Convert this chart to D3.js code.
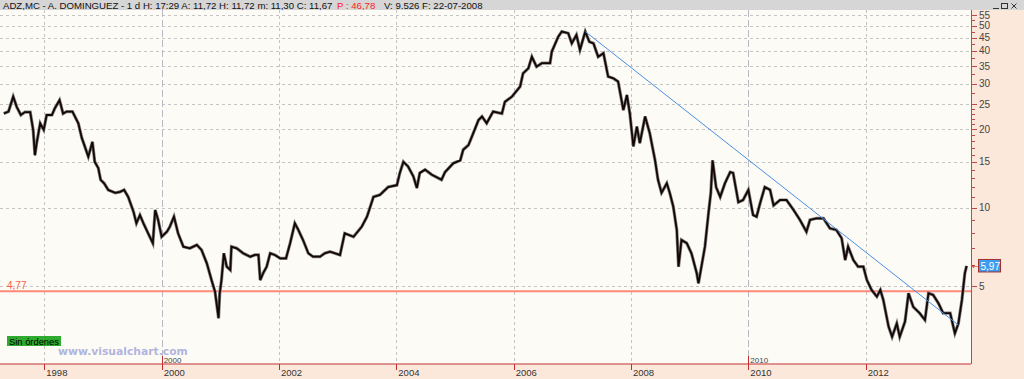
<!DOCTYPE html>
<html><head><meta charset="utf-8">
<script src="https://cdn.jsdelivr.net/npm/d3@7"></script>
<style>body{margin:0;background:#fff}svg{display:block}</style>
</head><body>
<svg id="c" width="1024" height="379"></svg>
<script>
// ---- data ----
const years = [1997.31,1997.39,1997.47,1997.53,1997.60,1997.67,1997.76,1997.81,1997.84,1997.87,1997.93,1997.99,
1998.04,1998.13,1998.18,1998.26,1998.32,1998.38,1998.48,1998.58,1998.64,1998.69,1998.75,1998.82,1998.86,1998.92,1998.96,
1999.02,1999.09,1999.21,1999.29,1999.36,1999.43,1999.52,1999.57,1999.63,1999.69,1999.77,1999.85,1999.89,1999.94,
2000.00,2000.09,2000.14,2000.21,2000.28,2000.37,2000.48,2000.60,2000.68,2000.77,2000.85,2000.91,2000.97,2000.99,
2001.02,2001.06,2001.11,2001.17,2001.19,2001.28,2001.39,2001.51,2001.59,2001.65,2001.68,2001.73,2001.79,2001.85,2001.93,
2002.02,2002.12,2002.19,2002.27,2002.33,2002.41,2002.50,2002.58,2002.70,2002.78,2002.87,
2003.04,2003.12,2003.27,2003.41,2003.50,2003.61,2003.72,2003.86,
2004.01,2004.06,2004.12,2004.20,2004.29,2004.35,2004.40,2004.49,2004.60,2004.77,2004.83,2004.97,
2005.09,2005.14,2005.23,2005.31,2005.40,2005.46,2005.54,2005.65,2005.80,2005.85,2005.97,
2006.11,2006.16,2006.25,2006.31,2006.39,2006.48,2006.62,2006.65,2006.76,2006.82,2006.93,2006.99,
2007.07,2007.13,2007.22,2007.29,2007.36,2007.44,2007.53,2007.61,2007.70,2007.78,2007.87,2007.93,2007.98,
2008.04,2008.10,2008.15,2008.24,2008.32,2008.41,2008.46,2008.52,2008.61,2008.66,2008.72,2008.78,2008.81,2008.86,2008.95,
2009.03,2009.12,2009.15,2009.21,2009.26,2009.32,2009.36,2009.39,2009.45,2009.52,2009.60,2009.69,2009.74,2009.83,2009.91,
2010.00,2010.08,2010.14,2010.20,2010.28,2010.37,2010.43,2010.54,2010.65,2010.77,2010.88,2010.99,
2011.05,2011.16,2011.28,2011.39,2011.50,2011.59,2011.65,2011.70,2011.79,2011.87,2011.96,
2012.02,2012.10,2012.19,2012.25,2012.30,2012.39,2012.45,2012.53,2012.58,2012.67,2012.73,2012.81,2012.92,
2013.01,2013.07,2013.15,2013.24,2013.32,2013.44,2013.52,2013.58,2013.64,2013.69,2013.72];
const closes = [23.0,23.4,26.7,24.4,22.7,23.3,23.3,19.9,15.9,17.7,21.1,19.9,
22.7,22.7,24.1,25.9,23.0,23.4,23.4,21.1,18.5,17.2,15.7,17.9,15.0,14.2,12.8,
12.4,11.7,11.4,11.5,11.7,11.0,9.65,8.71,9.37,8.71,7.97,7.30,9.80,8.97,
7.73,8.08,8.45,9.23,7.97,7.08,6.98,7.19,6.88,6.11,5.27,4.75,3.76,4.69,
5.27,6.68,5.93,5.76,7.08,6.98,6.68,6.48,6.58,6.58,5.27,5.60,5.93,6.68,6.58,
6.39,6.39,7.30,8.71,8.21,7.51,6.68,6.48,6.48,6.68,6.77,
6.58,7.97,7.73,8.45,9.23,11.0,11.2,12.0,
12.2,13.6,15.0,14.4,13.2,11.9,13.6,14.0,13.4,12.8,13.7,14.8,
15.2,16.7,17.4,19.3,21.7,22.4,21.1,23.4,23.0,25.5,26.7,
29.2,32.8,34.3,38.0,34.8,35.9,35.9,39.8,45.4,47.5,46.8,42.8,
46.1,40.4,47.5,43.4,42.8,38.0,39.2,31.9,31.4,30.5,23.7,27.1,23.0,
17.2,20.5,17.7,22.4,19.3,15.2,12.8,11.4,12.4,11.4,10.1,8.21,5.93,7.51,7.30,
6.68,5.60,5.12,6.11,7.08,9.51,11.4,15.2,12.0,11.0,12.4,13.7,13.6,10.5,10.7,
11.7,9.37,9.23,10.4,12.0,11.7,10.2,10.7,10.7,9.80,8.97,8.08,
8.97,9.10,9.10,8.33,8.21,7.63,6.29,7.08,6.29,5.93,5.93,
5.27,4.83,4.55,4.83,4.42,3.49,3.19,3.59,3.19,3.65,4.69,4.16,3.93,
3.70,4.69,4.62,4.29,3.93,3.93,3.29,3.59,4.42,5.60,5.97];
const trendYears = [2007.22, 2013.58];
const trendValues = [47.5, 3.54];
const supportLevel = 4.77;
const lastPrice = 5.97;
const yearTicks = [1998,2000,2002,2004,2006,2008,2010,2012];
const decadeYears = [2000,2010];
const priceTicks = [5,10,15,20,25,30,35,40,45,50,55];
const minorTicks = [6,7,8,9,11,12,13,14,16,17,18,19,21,22,23,24,27.5,32.5,37.5,42.5,47.5,52.5];
const headerParts = ["ADZ,MC - A. DOMINGUEZ -  1 d H: 17:29 A: 11,72 H: 11,72 m: 11,30 C: 11,67", "P : 46,78", "V: 9.526 F: 22-07-2008"];

// ---- layout ----
const W = 1024, H = 379, plotTop = 10, plotRight = 971, plotBottom = 364;
const svg = d3.select("#c");
const x = d3.scaleLinear().domain([1998, 2012]).range([44.3, 865.7]);
const y = d3.scaleLog().domain([5, 55]).range([286, 15]);
const fmt = v => d3.format(".2f")(v).replace(".", ",");

// backgrounds
svg.append("rect").attr("width", W).attr("height", H).attr("fill", "#fce8da");
svg.append("rect").attr("x", 0).attr("y", 0).attr("width", W).attr("height", plotTop).attr("fill", "#d6d6d6");
svg.append("rect").attr("x", 0).attr("y", plotTop).attr("width", plotRight).attr("height", plotBottom - plotTop).attr("fill", "#fdfbf5");

svg.append("defs").append("clipPath").attr("id", "plot")
  .append("rect").attr("x", 0).attr("y", plotTop).attr("width", plotRight).attr("height", plotBottom - plotTop);

const g = svg.append("g").attr("clip-path", "url(#plot)");

// grid
g.selectAll(".hg").data(priceTicks).join("line")
  .attr("x1", 0).attr("x2", plotRight).attr("y1", d => Math.round(y(d)) + 0.5).attr("y2", d => Math.round(y(d)) + 0.5)
  .attr("stroke", "#c4c4c4").attr("stroke-dasharray", "3,3");
g.selectAll(".vg").data(yearTicks).join("line")
  .attr("x1", d => Math.round(x(d)) + 0.5).attr("x2", d => Math.round(x(d)) + 0.5).attr("y1", plotTop).attr("y2", plotBottom)
  .attr("stroke", d => decadeYears.includes(d) ? "#b8b8c4" : "#c4c4c4")
  .attr("stroke-dasharray", d => decadeYears.includes(d) ? "7,3" : "3,3");

// support level
g.append("line").attr("x1", 0).attr("x2", plotRight).attr("y1", y(supportLevel)).attr("y2", y(supportLevel))
  .attr("stroke", "#ff8a78").attr("stroke-width", 2);
svg.append("text").attr("x", 7).attr("y", y(supportLevel) - 2.5).text(fmt(supportLevel))
  .attr("font-family", "Liberation Sans, Arial, sans-serif").attr("font-size", 10).attr("fill", "#ff5a40");

// price line
const pts = years.map((d, i) => [d, closes[i]]);
const line = d3.line().x(d => x(d[0])).y(d => y(d[1]));
g.append("path").attr("d", line(pts)).attr("fill", "none").attr("stroke", "#808080").attr("stroke-width", 3.2).attr("stroke-linejoin", "miter");
g.append("path").attr("d", line(pts)).attr("fill", "none").attr("stroke", "#140606").attr("stroke-width", 1.8).attr("stroke-linejoin", "miter");

// trend line
g.append("line").attr("x1", x(trendYears[0])).attr("y1", y(trendValues[0]))
  .attr("x2", x(trendYears[1])).attr("y2", y(trendValues[1]))
  .attr("stroke", "#4a8fe0").attr("stroke-width", 1);

// right axis
const ax = svg.append("g");
ax.append("line").attr("x1", plotRight + 0.5).attr("x2", plotRight + 0.5).attr("y1", plotTop).attr("y2", plotBottom).attr("stroke", "#c04848");
ax.selectAll(".mt").data(minorTicks).join("line")
  .attr("x1", plotRight).attr("x2", plotRight + 4).attr("y1", d => Math.round(y(d)) + 0.5).attr("y2", d => Math.round(y(d)) + 0.5)
  .attr("stroke", "#c04848");
ax.selectAll(".Mt").data(priceTicks).join("line")
  .attr("x1", plotRight).attr("x2", plotRight + 6).attr("y1", d => Math.round(y(d)) + 0.5).attr("y2", d => Math.round(y(d)) + 0.5)
  .attr("stroke", "#c04848");
ax.selectAll(".tl").data(priceTicks).join("text")
  .attr("x", plotRight + 8).attr("y", d => y(d) + 3.5).text(d => d)
  .attr("font-family", "Liberation Sans, Arial, sans-serif").attr("font-size", 10).attr("fill", "#444");

// last price marker
const ly = y(lastPrice);
svg.append("text").attr("x", plotRight + 1).attr("y", ly + 3).text("←")
  .attr("font-family", "DejaVu Sans, sans-serif").attr("font-size", 8).attr("fill", "#d03030");
svg.append("rect").attr("x", 978.5).attr("y", ly - 6.5).attr("width", 22).attr("height", 12.5)
  .attr("fill", "#3d9bf0").attr("stroke", "#a03030");
svg.append("text").attr("x", 980.5).attr("y", ly + 3.8).text(fmt(lastPrice))
  .attr("font-family", "Liberation Sans, Arial, sans-serif").attr("font-size", 10).attr("fill", "#fff");

// bottom axis
const bx = svg.append("g");
bx.append("line").attr("x1", 0).attr("x2", plotRight).attr("y1", plotBottom).attr("y2", plotBottom).attr("stroke", "#d47070").attr("stroke-width", 1.5);
bx.selectAll(".bt").data(yearTicks).join("line")
  .attr("x1", d => Math.round(x(d)) + 0.5).attr("x2", d => Math.round(x(d)) + 0.5)
  .attr("y1", d => decadeYears.includes(d) ? plotBottom - 8 : plotBottom).attr("y2", plotBottom + 6)
  .attr("stroke", "#c03030");
bx.selectAll(".bl").data(yearTicks).join("text")
  .attr("x", d => x(d) + 2).attr("y", plotBottom + 11.5).text(d => d)
  .attr("font-family", "Liberation Sans, Arial, sans-serif").attr("font-size", 9.5).attr("fill", "#333");
bx.selectAll(".dl").data(decadeYears).join("text")
  .attr("x", d => x(d) + 2).attr("y", plotBottom - 1.5).text(d => d)
  .attr("font-family", "Liberation Sans, Arial, sans-serif").attr("font-size", 8).attr("fill", "#444");

// Sin órdenes
svg.append("rect").attr("x", 7).attr("y", 336).attr("width", 54).attr("height", 10).attr("fill", "#2eaa2e");
const so = svg.append("text").attr("x", 9).attr("y", 344.5).text("Sin órdenes")
  .attr("font-family", "Liberation Sans, Arial, sans-serif").attr("font-size", 9).attr("fill", "#000");
so.attr("font-size", 9 * 50 / so.node().getComputedTextLength());

// watermark
const wm = svg.append("text").attr("x", 58).attr("y", 354.5).text("www.visualchart.com")
  .attr("font-family", "DejaVu Sans, Verdana, sans-serif").attr("font-weight", "bold").attr("font-size", 11)
  .attr("fill", "#a7abdb").attr("fill-opacity", 0.9);
wm.attr("font-size", 11 * 130 / wm.node().getComputedTextLength());

// header: one font size fitted to the first segment; segments placed as in the reference
const hx = [3, 337, 384];
const first = svg.append("text").attr("x", hx[0]).attr("y", 8.5).text(headerParts[0])
  .attr("font-family", "Liberation Sans, Arial, sans-serif").attr("font-size", 9).attr("fill", "#111");
const hs = Math.min(10, 9 * 330 / first.node().getComputedTextLength());
first.attr("font-size", hs);
headerParts.slice(1).forEach((t, i) => {
  svg.append("text").attr("x", hx[i + 1]).attr("y", 8.5).text(t)
    .attr("font-family", "Liberation Sans, Arial, sans-serif").attr("font-size", hs)
    .attr("fill", i === 0 ? "#ff2020" : "#111");
});
// window buttons
const wb = svg.append("g").attr("stroke", "#333").attr("fill", "none");
wb.append("line").attr("x1", 993).attr("x2", 999).attr("y1", 8.5).attr("y2", 8.5);
wb.append("rect").attr("x", 1001.5).attr("y", 3.5).attr("width", 6).attr("height", 5);
wb.append("line").attr("x1", 1011.5).attr("y1", 3.5).attr("x2", 1016.5).attr("y2", 8.5);
wb.append("line").attr("x1", 1016.5).attr("y1", 3.5).attr("x2", 1011.5).attr("y2", 8.5);
</script>
</body></html>
